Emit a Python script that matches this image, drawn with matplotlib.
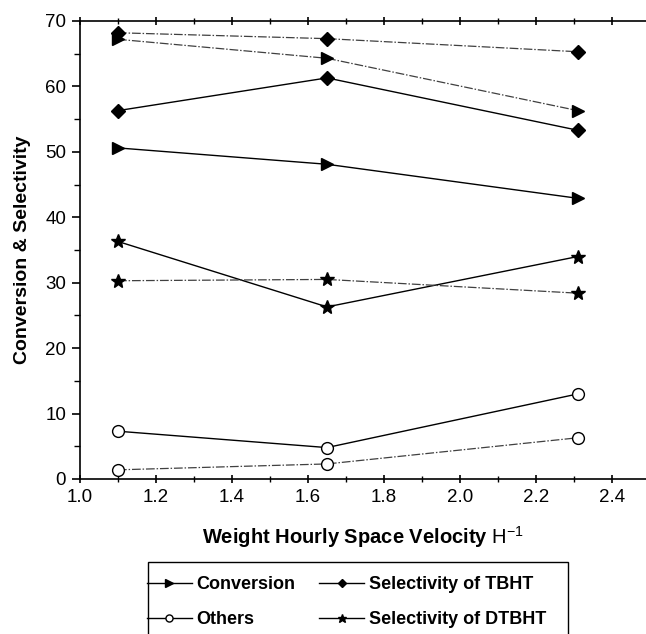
import numpy as np
import matplotlib.pyplot as plt
from matplotlib.ticker import MultipleLocator
from matplotlib.patches import Rectangle

plt.rcParams['font.family'] = ['Liberation Sans', 'DejaVu Sans']
plt.rcParams['mathtext.fontset'] = 'custom'
plt.rcParams['mathtext.rm'] = 'Liberation Sans'

# data
whsv = [1.1, 1.65, 2.31]
conv_a = [50.6, 48.1, 42.9]
conv_b = [67.2, 64.3, 56.3]
tbht_a = [56.3, 61.3, 53.3]
tbht_b = [68.2, 67.3, 65.3]
dtbht_a = [36.3, 26.3, 34.0]
dtbht_b = [30.3, 30.5, 28.4]
others_a = [7.3, 4.8, 13.0]
others_b = [1.4, 2.3, 6.3]

labels = ['Conversion', 'Others', 'Selectivity of TBHT', 'Selectivity of DTBHT']

fig = plt.figure(figsize=(6.46, 6.34), dpi=100)
ax = fig.add_axes([0.1238, 0.2445, 0.8762, 0.7224])

dashdot = (0, (7, 1.5, 1.2, 1.5))
solid_kw = dict(color='black', lw=1.0)
dd_kw = dict(color='0.25', lw=0.9, ls=dashdot)

series = [
    (conv_a, conv_b, '>', 'black', 8.5),
    (others_a, others_b, 'o', 'white', 8.5),
    (tbht_a, tbht_b, 'D', 'black', 7),
    (dtbht_a, dtbht_b, '*', 'black', 10.5),
]

handles = []
for (ya, yb, m, fc, ms), lab in zip(series, labels):
    h, = ax.plot(whsv, ya, marker=m, mfc=fc, mec='black', ms=ms, mew=1.0,
                 label=lab, **solid_kw)
    ax.plot(whsv, yb, marker=m, mfc=fc, mec='black', ms=ms, mew=1.0, **dd_kw)
    handles.append(h)

ax.set_xlim(1.0, 2.4895)
ax.set_ylim(0, 70)
ax.xaxis.set_major_locator(MultipleLocator(0.2))
ax.xaxis.set_minor_locator(MultipleLocator(0.1))
ax.yaxis.set_major_locator(MultipleLocator(10))
ax.yaxis.set_minor_locator(MultipleLocator(5))
ax.spines['right'].set_visible(False)
for s in ['left', 'bottom', 'top']:
    ax.spines[s].set_linewidth(1.2)
ax.tick_params(axis='both', which='major', direction='out', length=6, width=1.2,
               labelsize=13.5, pad=4)
ax.tick_params(axis='both', which='minor', direction='out', length=4, width=1.0)
ax.tick_params(axis='x', which='both', top=True)
ax.tick_params(axis='x', which='both', direction='inout')

ax.set_ylabel('Conversion & Selectivity', fontsize=14, fontweight='bold', labelpad=10)
ax.set_xlabel(r'Weight Hourly Space Velocity $\mathrm{H^{-1}}$',
              fontsize=14.5, fontweight='bold', labelpad=13)

leg = fig.legend(handles=handles, labels=labels, ncol=2, loc='upper left',
                 bbox_to_anchor=(0.205, 0.1136), frameon=False,
                 markerscale=0.6, handlelength=2.5, handletextpad=0.25,
                 columnspacing=1.3, borderpad=0.3, labelspacing=1.0,
                 prop={'weight': 'bold', 'size': 13})
fig.patches.append(Rectangle((0.229, -0.05), 0.650, 0.1636,
                             transform=fig.transFigure, fill=False,
                             edgecolor='black', lw=1.0))

fig.savefig('out.png', dpi=100)
